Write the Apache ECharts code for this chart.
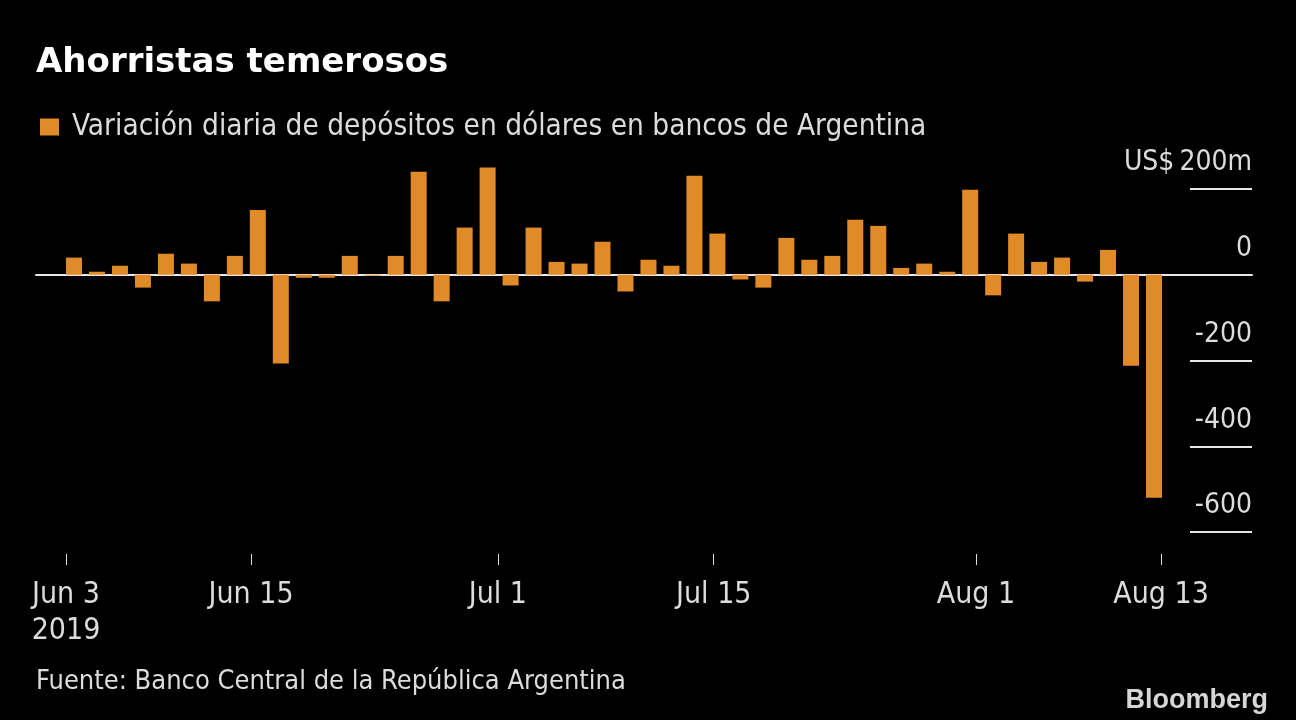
<!DOCTYPE html>
<html><head><meta charset="utf-8">
<script src="https://cdn.jsdelivr.net/npm/echarts@6/dist/echarts.min.js"></script>
<style>html,body{margin:0;padding:0;background:#000;}#c{width:1296px;height:720px;}</style>
</head><body><div id="c"></div>
<script>
// Business days with data (Argentina), Jun 3 – Aug 13, 2019
const dates = [
  '2019-06-03','2019-06-04','2019-06-05','2019-06-06','2019-06-07',
  '2019-06-10','2019-06-11','2019-06-12','2019-06-13','2019-06-14',
  '2019-06-18','2019-06-19','2019-06-21',
  '2019-06-24','2019-06-25','2019-06-26','2019-06-27','2019-06-28',
  '2019-07-01','2019-07-02','2019-07-03','2019-07-04','2019-07-05',
  '2019-07-10','2019-07-11','2019-07-12',
  '2019-07-15','2019-07-16','2019-07-17','2019-07-18','2019-07-19',
  '2019-07-22','2019-07-23','2019-07-24','2019-07-25','2019-07-26',
  '2019-07-29','2019-07-30','2019-07-31','2019-08-01','2019-08-02',
  '2019-08-05','2019-08-06','2019-08-07','2019-08-08','2019-08-09',
  '2019-08-12','2019-08-13'
];
// Daily change in USD deposits, US$ millions
const values = [
  40, 7, 21, -30, 49,
  26, -62, 44, 151, -207,
  -7, -7, 44,
  -2, 44, 240, -62, 110,
  250, -25, 110, 30, 26,
  77, -39, 35,
  21, 231, 96, -11, -30,
  86, 35, 44, 128, 114,
  16, 26, 7, 198, -48,
  96, 30, 40, -16, 58,
  -212, -520
];
const tickDates = ['2019-06-03','2019-06-15','2019-07-01','2019-07-15','2019-08-01','2019-08-13'];
const tickLabels = ['Jun 3\n2019','Jun 15','Jul 1','Jul 15','Aug 1','Aug 13'];
const yMin = -600, yMax = 200, yStep = 200;

const DAY = 86400000;
const t0 = Date.parse(tickDates[0]);
const dayOf = d => Math.round((Date.parse(d) - t0) / DAY);
const tickDays = tickDates.map(dayOf);

const FONT = "'DejaVu Sans Condensed','DejaVu Sans',sans-serif";
const TXT = '#dcdcdc';
const ORANGE = '#E08B27';
const SERIES_NAME = 'Variación diaria de depósitos en dólares en bancos de Argentina';

const chart = echarts.init(document.getElementById('c'), null, {renderer: 'canvas'});
chart.setOption({
  backgroundColor: '#000',
  animation: false,
  legend: {
    data: [SERIES_NAME],
    left: 40, top: 112, padding: 0,
    icon: 'rect', itemWidth: 19, itemHeight: 17,
    textStyle: {color: TXT, fontSize: 29.5, fontFamily: FONT, lineHeight: 30, padding: [0, 0, 0, 8]}
  },
  grid: [
    {left: 36, right: 44, top: 189, bottom: 188},
    {left: 1190, right: 44, top: 189, bottom: 188}
  ],
  xAxis: [
    { // bars: evenly spaced trading days
      type: 'value', gridIndex: 0, position: 'top',
      min: -1.654, max: 51.265,
      axisLine: {show: true, onZero: true, lineStyle: {color: '#e6e6e6', width: 2}},
      axisTick: {show: false}, axisLabel: {show: false}, splitLine: {show: false}
    },
    { // calendar date labels
      type: 'value', gridIndex: 0, position: 'bottom', offset: 22,
      min: -1.945, max: 76.9,
      axisLine: {show: false},
      axisTick: {show: true, length: 11, customValues: tickDays, lineStyle: {color: TXT, width: 1}},
      axisLabel: {
        show: true, customValues: tickDays, margin: 23,
        color: TXT, fontSize: 30, fontFamily: FONT, lineHeight: 36,
        formatter: v => tickLabels[tickDays.indexOf(Math.round(v))] || ''
      },
      splitLine: {show: false}
    },
    {type: 'value', gridIndex: 1, show: false}
  ],
  yAxis: [
    {type: 'value', gridIndex: 0, min: yMin, max: yMax, interval: yStep, show: false},
    {
      type: 'value', gridIndex: 1, position: 'right', min: yMin, max: yMax, interval: yStep,
      axisLine: {show: false}, axisTick: {show: false},
      splitLine: {show: true, lineStyle: {color: '#e6e6e6', width: 2}},
      axisLabel: {
        inside: true, margin: 0, color: TXT, fontSize: 28, fontFamily: FONT,
        verticalAlign: 'bottom', padding: [0, 0, 12, 0],
        formatter: v => v === yMax ? 'US$\u2009' + v + 'm' : String(v)
      }
    }
  ],
  series: [{
    name: SERIES_NAME,
    type: 'bar', xAxisIndex: 0, yAxisIndex: 0,
    barWidth: 16, clip: false,
    itemStyle: {color: ORANGE},
    data: values.map((v, i) => [i, v])
  }],
  graphic: [
    {type: 'text', left: 36, top: 46,
     style: {text: 'Ahorristas temerosos', fill: '#ffffff', font: "bold 34px 'DejaVu Sans', sans-serif"}},
    {type: 'text', left: 36, top: 668,
     style: {text: 'Fuente: Banco Central de la República Argentina', fill: TXT, font: "27px " + FONT}},
    {type: 'text', right: 28, top: 687,
     style: {text: 'Bloomberg', fill: '#d6d6d6', font: "bold 27px 'Liberation Sans', Arial, sans-serif"}}
  ]
});
</script>
</body></html>
